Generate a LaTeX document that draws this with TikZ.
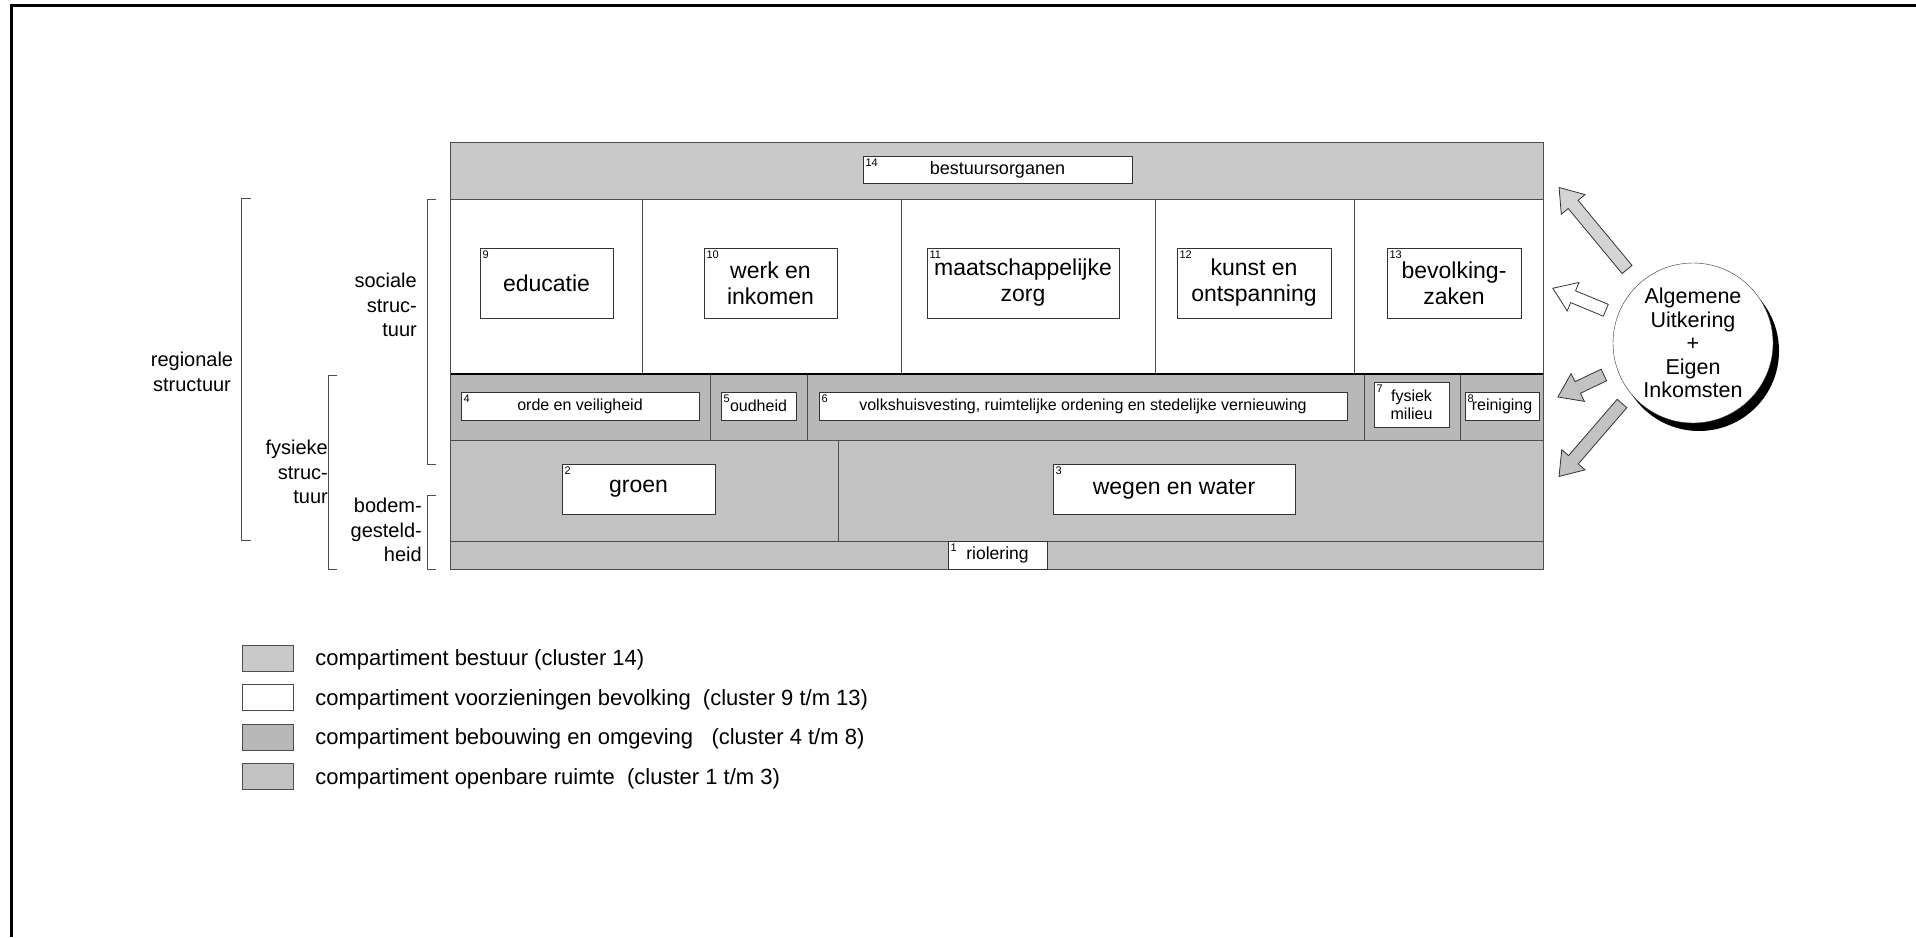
\documentclass[tikz,border=0pt]{standalone}
\usepackage{fontspec}
\setmainfont{Liberation Sans}
\usetikzlibrary{positioning,calc,shapes.arrows,shadows}

\definecolor{bestuur}{gray}{0.79}
\definecolor{bebouwing}{gray}{0.72}
\definecolor{openbaar}{gray}{0.76}

\newcommand{\groot}{\fontsize{23}{26}\selectfont}
\newcommand{\klein}{\fontsize{16}{18}\selectfont}
\newcommand{\middel}{\fontsize{20}{24.5}\selectfont}
\newcommand{\blokpijl}[3]{%
  \path let \p1=($(#2)-(#1)$), \n1={atan2(\y1,\x1)}, \n2={veclen(\x1,\y1)} in
    node[pijl, fill=#3, rotate=\n1, minimum height=\n2] at ($(#1)!0.5!(#2)$) {};}

\begin{document}
\begin{tikzpicture}[x=1pt,y=-1pt,on grid,node distance=39.5pt,
   cbox/.style={draw=black!80,fill=white,inner sep=0pt,align=center},
   num/.style={anchor=north west,inner sep=2.5pt,font=\fontsize{11}{12}\selectfont},
   band/.style={draw=black!70,line width=1pt},
   bracket/.style={draw=black!70,line width=1pt},
   brlabel/.style={inner sep=0pt,font=\middel},
   pijl/.style={single arrow,draw=black!80,line width=0.8pt,inner xsep=0pt,inner ysep=6pt,
                single arrow head extend=9pt,single arrow tip angle=70},
   legbox/.style={draw=black!70,minimum width=51pt,minimum height=26pt,inner sep=0pt},
   legtext/.style={anchor=west,inner sep=0pt,font=\fontsize{22}{24}\selectfont}]

\useasboundingbox (0,0) rectangle (1916,937);
\draw[line width=3pt] (11,937) -- (11,5) -- (1916,5);

% compartimenten
\fill[bestuur] (450,142) rectangle (1543,199);
\fill[white] (450,199) rectangle (1543,374);
\fill[bebouwing] (450,374) rectangle (1543,440);
\fill[openbaar] (450,440) rectangle (1543,569);
\foreach \x in {642,901,1155,1354} \draw[band] (\x,199) -- (\x,374);
\foreach \x in {710,807,1364,1460} \draw[band] (\x,374) -- (\x,440);
\draw[band] (838,440) -- (838,541);
\draw[band] (450,199) -- (1543,199);
\draw[band] (450,440) -- (1543,440);
\draw[band] (450,541) -- (1543,541);
\draw[line width=2.5pt] (450,374) -- (1543,374);
\draw[band] (450,142) rectangle (1543,569);

% clusters
\node[cbox,minimum width=269pt,minimum height=27pt,font=\fontsize{18}{21}\selectfont,label={[num]north west:14}] (b14) at (997.5,169.5) {bestuursorganen};
\node[cbox,minimum width=133pt,minimum height=70pt,font=\groot,label={[num]north west:9}] (b9) at (546.5,283) {educatie};
\node[cbox,minimum width=133pt,minimum height=70pt,font=\groot,label={[num]north west:10}] (b10) at (770.5,283) {werk en\\inkomen};
\node[cbox,minimum width=192pt,minimum height=70pt,font=\groot,label={[num]north west:11}] (b11) at (1023,283) {maatschappelijke\\zorg};
\node[cbox,minimum width=154pt,minimum height=70pt,font=\groot,label={[num]north west:12}] (b12) at (1254,283) {kunst en\\ontspanning};
\node[cbox,minimum width=134pt,minimum height=70pt,font=\groot,label={[num]north west:13}] (b13) at (1454,283) {bevolking-\\zaken};
\node[cbox,minimum width=238pt,minimum height=28pt,font=\klein,label={[num]north west:4}] (b4) at (580,406) {orde en veiligheid};
\node[cbox,minimum width=75pt,minimum height=28pt,font=\klein,label={[num]north west:5}] (b5) at (758.5,406) {oudheid};
\node[cbox,minimum width=528pt,minimum height=28pt,font=\klein,label={[num]north west:6}] (b6) at (1083,406) {volkshuisvesting, ruimtelijke ordening en stedelijke vernieuwing};
\node[cbox,minimum width=75pt,minimum height=45pt,font=\klein,label={[num]north west:7}] (b7) at (1411.5,404.5) {fysiek\\milieu};
\node[cbox,minimum width=74pt,minimum height=28pt,font=\klein,label={[num]north west:8}] (b8) at (1502,406) {reiniging};
\node[cbox,minimum width=153pt,minimum height=50pt,font=\groot,label={[num]north west:2}] (b2) at (638.5,489) {\raisebox{-3pt}{groen}};
\node[cbox,minimum width=242pt,minimum height=50pt,font=\groot,label={[num]north west:3}] (b3) at (1174,489) {wegen en water};
\node[cbox,minimum width=99pt,minimum height=28pt,font=\fontsize{17.5}{20}\selectfont,label={[num]north west:1}] (b1) at (997.5,555) {riolering};

% structuren
\draw[bracket] (251,198) -- (241,198) -- (241,540) -- (251,540);
\draw[bracket] (436,199) -- (427,199) -- (427,464) -- (436,464);
\draw[bracket] (337,375) -- (328,375) -- (328,569) -- (337,569);
\draw[bracket] (436,495) -- (427,495) -- (427,569) -- (436,569);
\node[brlabel,align=center] (regio) at (192,372) {regionale\\structuur};
\node[brlabel,align=right,anchor=east] (sociaal) at (417,305) {sociale\\struc-\\tuur};
\node[brlabel,align=right,anchor=east] (fysiek) at (328,472) {fysieke\\struc-\\tuur};
\node[brlabel,align=right,anchor=east] (bodem) at (422,530) {bodem-\\gesteld-\\heid};

% middelen
\node[circle,draw=black!80,fill=white,minimum size=160pt,inner sep=0pt,align=center,
      font=\fontsize{21.5}{23.5}\selectfont,
      drop shadow={shadow xshift=6pt,shadow yshift=-8pt,opacity=1,fill=black}]
      (bron) at (1693,343) {Algemene\\Uitkering\\+\\Eigen\\Inkomsten};
\coordinate (s1) at (1630,273); \coordinate (t1) at (1562,191);
\coordinate (s2) at (1610,312); \coordinate (t2) at (1557,290);
\coordinate (s3) at (1608,373); \coordinate (t3) at (1562,395);
\coordinate (s4) at (1625,400); \coordinate (t4) at (1562,473);
\blokpijl{s1}{t1}{bestuur!80}
\blokpijl{s2}{t2}{white}
\blokpijl{s3}{t3}{openbaar}
\blokpijl{s4}{t4}{openbaar}

% legenda
\node[legbox,fill=bestuur] (lg1) at (267.5,658) {};
\node[legbox,fill=white,below=of lg1] (lg2) {};
\node[legbox,fill=bebouwing,below=of lg2] (lg3) {};
\node[legbox,fill=openbaar,below=of lg3] (lg4) {};
\node[legtext] (lt1) at ([xshift=22pt,yshift=-2pt]lg1.east) {compartiment bestuur (cluster 14)};
\node[legtext] (lt2) at ([xshift=22pt,yshift=-2pt]lg2.east) {compartiment voorzieningen bevolking\ \ (cluster 9 t/m 13)};
\node[legtext] (lt3) at ([xshift=22pt,yshift=-2pt]lg3.east) {compartiment bebouwing en omgeving\ \ \ (cluster 4 t/m 8)};
\node[legtext] (lt4) at ([xshift=22pt,yshift=-2pt]lg4.east) {compartiment openbare ruimte\ \ (cluster 1 t/m 3)};
\end{tikzpicture}
\end{document}
